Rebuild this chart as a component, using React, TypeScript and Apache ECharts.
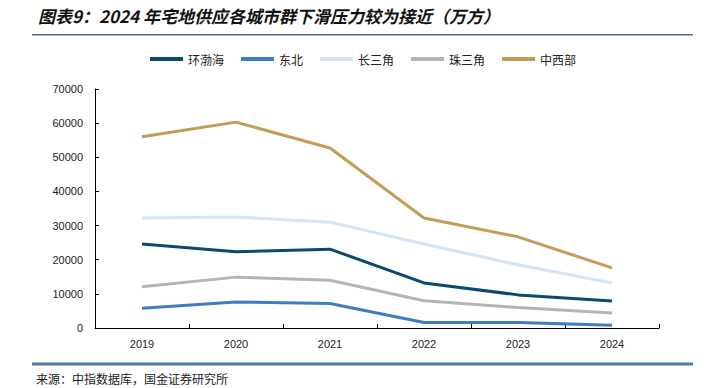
import React, { useEffect, useRef } from "react";
import * as echarts from "echarts";

const years = ["2019", "2020", "2021", "2022", "2023", "2024"];
const huanbohai = [24600, 22300, 23100, 13200, 9700, 7900];
const dongbei = [5800, 7600, 7200, 1600, 1600, 800];
const changsanjiao = [32200, 32500, 31000, 24600, 18500, 13200];
const zhusanjiao = [12100, 14900, 14000, 8000, 6000, 4400];
const zhongxibu = [56000, 60300, 52700, 32200, 26700, 17600];

const seriesNames = ["环渤海", "东北", "长三角", "珠三角", "中西部"];
const seriesColors = ["#0a4a6e", "#3f7dc1", "#d3e4f5", "#b5b5b5", "#c49c56"];

export default function App() {
  const ref = useRef<HTMLDivElement>(null);
  useEffect(() => {
    if (!ref.current) return;
    const chart = echarts.init(ref.current, null, { renderer: "svg" });
    const data = [huanbohai, dongbei, changsanjiao, zhusanjiao, zhongxibu];
    const font = "'Noto Sans CJK SC', sans-serif";
    chart.setOption({
      animation: false,
      textStyle: { fontFamily: font },
      graphic: [
        {
          type: "text",
          left: 38,
          top: 7,
          style: {
            text: "图表9：2024 年宅地供应各城市群下滑压力较为接近（万方）",
            font: "italic bold 17px 'Noto Sans CJK SC', sans-serif",
            fill: "#111",
          },
        },
        {
          type: "rect",
          shape: { x: 32, y: 34, width: 661, height: 1.5 },
          style: { fill: "#3f6f8c" },
        },
        {
          type: "rect",
          shape: { x: 32, y: 362.5, width: 661, height: 3 },
          style: { fill: "#4d7f98" },
        },
        {
          type: "text",
          left: 36,
          top: 372,
          style: {
            text: "来源：中指数据库，国金证券研究所",
            font: "12px 'Noto Sans CJK SC', sans-serif",
            fill: "#222",
          },
        },
      ],
      legend: {
        top: 48,
        left: 145,
        itemWidth: 33,
        itemHeight: 4,
        itemGap: 17,
        icon: "rect",
        textStyle: { fontSize: 12, color: "#222", fontFamily: font },
        data: seriesNames,
      },
      grid: { left: 95, right: 48, top: 89, bottom: 60 },
      xAxis: {
        type: "category",
        data: years,
        boundaryGap: true,
        axisLine: { lineStyle: { color: "#000", width: 1 } },
        axisTick: { show: true, inside: true, length: 4, lineStyle: { color: "#000" } },
        axisLabel: { color: "#222", fontSize: 11, margin: 10, fontFamily: "Liberation Sans, Arial, sans-serif" },
      },
      yAxis: {
        type: "value",
        min: 0,
        max: 70000,
        interval: 10000,
        axisLine: { show: true, lineStyle: { color: "#000", width: 1 } },
        axisTick: { show: true, inside: true, length: 4, lineStyle: { color: "#000" } },
        splitLine: { show: false },
        axisLabel: {
          color: "#222",
          fontSize: 11,
          margin: 12,
          fontFamily: "Liberation Sans, Arial, sans-serif",
          formatter: (v: number) => String(v),
        },
      },
      series: seriesNames.map((name, i) => ({
        name,
        type: "line",
        data: data[i],
        symbol: "none",
        lineStyle: { width: 3, color: seriesColors[i] },
        itemStyle: { color: seriesColors[i] },
      })),
    });
    return () => chart.dispose();
  }, []);
  return (
    <div
      ref={ref}
      style={{ width: 707, height: 388, position: "absolute", left: 0, top: 0 }}
    />
  );
}
